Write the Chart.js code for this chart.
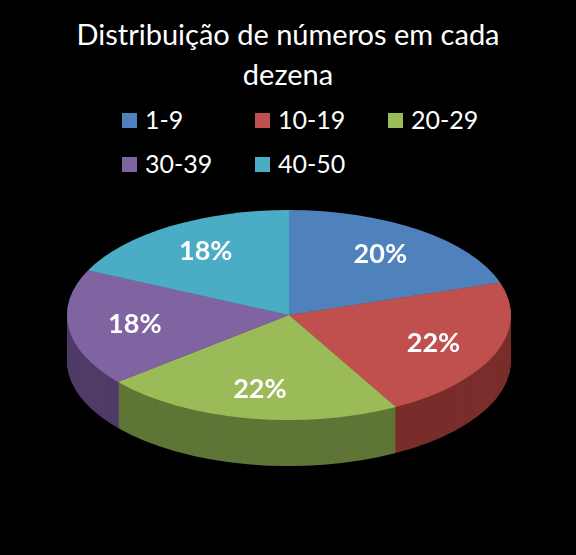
<!DOCTYPE html>
<html><head><meta charset="utf-8">
<script src="https://cdn.jsdelivr.net/npm/chart.js@4"></script>
<style>
body{margin:0;background:#000;width:576px;height:555px;overflow:hidden;font-family:Lato,"Open Sans",sans-serif;color:#fff}
#title{position:absolute;top:14px;left:0;width:576px;text-align:center;font-size:29px;line-height:40px}
#legend{position:absolute;top:104px;left:122px;display:grid;grid-template-columns:133px 133px 133px;row-gap:14px;font-size:25px}
#legend span.b{display:inline-block;width:15px;height:15px;margin-right:8px;vertical-align:1px}
canvas{position:absolute;left:0;top:0}
</style></head><body>
<div id="title">Distribuição de números em cada<br>dezena</div>
<div id="legend"></div>
<canvas id="c" width="576" height="555"></canvas>
<script>
const categories = ['1-9', '10-19', '20-29', '30-39', '40-50'];
const values = [20, 22, 22, 18, 18];
const colors = ['#4F81BD', '#C0504D', '#9BBB59', '#8064A2', '#4BACC6'];
const sideColors = ['#2f4f7a', '#7a2d2b', '#5f7636', '#4e3b66', '#2c6d80'];

const legend = document.getElementById('legend');
categories.forEach((c, i) => {
    legend.innerHTML += '<div><span class="b" style="background:' + colors[i] + '"></span>' + c + '</div>';
});

const cx0 = 289, cy0 = 315, rx = 222, ry = 105, depth = 46;

function setTransform(ctx, arc, dy) {
    const r = arc.outerRadius;
    ctx.translate(cx0, cy0 + dy);
    ctx.scale(rx / r, ry / r);
    ctx.translate(-arc.x, -arc.y);
}
function wedge(ctx, a) {
    ctx.beginPath();
    ctx.moveTo(a.x, a.y);
    ctx.arc(a.x, a.y, a.outerRadius, a.startAngle, a.endAngle);
    ctx.closePath();
    ctx.fill();
}

const pie3d = {
    id: 'pie3d',
    beforeDatasetsDraw(chart) {
        const ctx = chart.ctx;
        const arcs = chart.getDatasetMeta(0).data;
        for (let d = depth; d > 0; d--) {
            arcs.forEach((a, i) => {
                ctx.save();
                setTransform(ctx, a, d);
                ctx.fillStyle = sideColors[i];
                wedge(ctx, a);
                ctx.restore();
            });
        }
        arcs.forEach((a, i) => {
            ctx.save();
            setTransform(ctx, a, 0);
            ctx.fillStyle = colors[i];
            wedge(ctx, a);
            ctx.restore();
        });
        return false;
    },
    afterDraw(chart) {
        const ctx = chart.ctx;
        const arcs = chart.getDatasetMeta(0).data;
        ctx.save();
        ctx.fillStyle = '#fff';
        ctx.font = 'bold 27px Lato, "Open Sans", sans-serif';
        ctx.textAlign = 'center';
        ctx.textBaseline = 'middle';
        arcs.forEach((a, i) => {
            const mid = (a.startAngle + a.endAngle) / 2;
            const x = cx0 + Math.cos(mid) * rx * 0.7;
            const y = cy0 + Math.sin(mid) * ry * 0.72;
            ctx.fillText(values[i] + '%', x, y);
        });
        ctx.restore();
    }
};

new Chart(document.getElementById('c').getContext('2d'), {
    type: 'pie',
    data: {
        labels: categories,
        datasets: [{ data: values, backgroundColor: colors, borderWidth: 0 }]
    },
    options: {
        responsive: false,
        animation: false,
        plugins: { legend: { display: false }, tooltip: { enabled: false } }
    },
    plugins: [pie3d]
});
</script>
</body></html>
